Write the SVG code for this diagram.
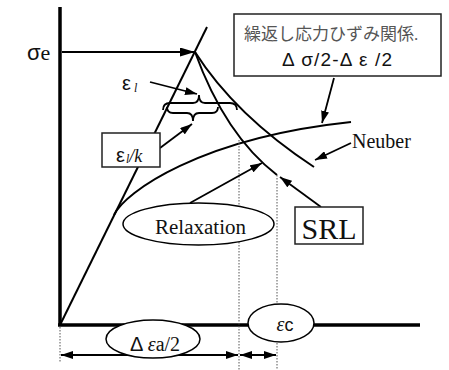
<svg xmlns="http://www.w3.org/2000/svg" width="449" height="370" viewBox="0 0 449 370">
<style>
.ax{stroke:#000;stroke-width:3.5;fill:none}
.cv{stroke:#000;stroke-width:2;fill:none}
.ln{stroke:#000;stroke-width:1.8;fill:none}
.dt{stroke:#555;stroke-width:1;stroke-dasharray:1.5 1.5;fill:none}
.bx{fill:#fff;stroke:#222;stroke-width:1.5}
.el{fill:#fff;stroke:#000;stroke-width:1.5}
.sf{font-family:"Liberation Serif","Times New Roman",serif;fill:#111}
.ss{font-family:"Liberation Sans",Arial,sans-serif;fill:#111}
</style>
<defs>
<marker id="ah" viewBox="0 0 12 8" refX="12" refY="4" markerWidth="12" markerHeight="8" orient="auto-start-reverse" markerUnits="userSpaceOnUse"><path d="M0,0 L12,4 L0,8 z" fill="#000"/></marker>
<marker id="ahl" viewBox="0 0 15 9" refX="15" refY="4.5" markerWidth="15" markerHeight="9" orient="auto" markerUnits="userSpaceOnUse"><path d="M0,0 L15,4.5 L0,9 z" fill="#000"/></marker>
</defs>
<rect width="449" height="370" fill="#fff"/>
<g id="axes">
<line class="ax" x1="60" y1="7" x2="60" y2="326"/>
<line class="ax" x1="58" y1="325" x2="420" y2="325"/>
</g>
<g id="curves">
<line class="cv" x1="60" y1="325" x2="207" y2="27"/>
<path class="cv" d="M195,52 Q235,115 314,167"/>
<path class="cv" d="M195,52 Q225,135 277,175"/>
<path class="cv" d="M114,215 C125,192 200,138 351,122"/>
<path class="ln" d="M163,110 Q163,103 170,103 L193,103 Q199,103 199,95 Q199,103 205,103 L230,103 Q237,103 237,110"/>
<path class="ln" d="M167,107 Q167,113 173,113 L187,113 Q193,113 193,121 Q193,113 199,113 L212,113 Q218,113 218,107"/>
</g>
<g id="dotted">
<line class="dt" x1="239" y1="140" x2="239" y2="370"/>
<line class="dt" x1="277" y1="175" x2="277" y2="370"/>
<line class="dt" x1="60" y1="327" x2="60" y2="362"/>
</g>
<g id="connectors">
<line class="ln" x1="62" y1="52" x2="195" y2="52" marker-end="url(#ahl)"/>
<line class="ln" x1="150" y1="82" x2="197" y2="94" marker-end="url(#ah)"/>
<line class="ln" x1="160" y1="148" x2="192" y2="124" marker-end="url(#ah)"/>
<line class="ln" x1="334" y1="78" x2="322" y2="123" marker-end="url(#ah)"/>
<line class="ln" x1="351" y1="143" x2="315" y2="160" marker-end="url(#ah)"/>
<line class="ln" x1="190" y1="203" x2="262" y2="163" marker-end="url(#ah)"/>
<line class="ln" x1="321" y1="207" x2="280" y2="177" marker-end="url(#ah)"/>
<line class="ln" x1="61" y1="355" x2="238" y2="355" marker-start="url(#ah)" marker-end="url(#ah)"/>
<line class="ln" x1="240" y1="355" x2="276" y2="355" marker-start="url(#ah)" marker-end="url(#ah)"/>
</g>
<g id="sigma-e">
<text x="27" y="60" font-size="22"><tspan class="ss">σ</tspan><tspan class="sf">e</tspan></text>
</g>
<g id="cyclic-box">
<rect class="bx" x="234" y="14" width="207" height="62"/>
<text x="244" y="40" font-size="17" fill="#555" font-family="'Liberation Serif','Noto Sans CJK JP',serif">繰返し応力ひずみ関係.</text>
<text class="ss" x="282" y="66" font-size="19" textLength="110" lengthAdjust="spacing">Δ σ/2-Δ ε /2</text>
</g>
<g id="eps-l">
<text x="122" y="90" font-size="20"><tspan class="ss">ε</tspan><tspan class="sf" font-size="12" font-style="italic" dx="3" dy="2">l</tspan></text>
</g>
<g id="eps-l-k">
<rect class="bx" x="102" y="133" width="58" height="34"/>
<text x="116" y="162" font-size="20"><tspan class="ss">ε</tspan><tspan class="sf" font-size="12" font-style="italic" dx="1" dy="1">l</tspan><tspan class="sf" font-style="italic" font-size="18" dy="-1">/k</tspan></text>
</g>
<g id="neuber">
<text class="sf" x="352" y="148" font-size="20">Neuber</text>
</g>
<g id="relaxation">
<ellipse class="el" cx="198.5" cy="224" rx="75.5" ry="21"/>
<text class="sf" x="155" y="234" font-size="20" textLength="91" lengthAdjust="spacingAndGlyphs">Relaxation</text>
</g>
<g id="srl">
<rect class="bx" x="295" y="207" width="68" height="37"/>
<text class="sf" x="329" y="239" font-size="30" text-anchor="middle">SRL</text>
</g>
<g id="delta-eps-a">
<ellipse class="el" cx="153" cy="339" rx="47" ry="19"/>
<text x="155" y="351" font-size="20" text-anchor="middle"><tspan class="ss">Δ </tspan><tspan class="sf" font-style="italic">ε</tspan><tspan class="sf">a/2</tspan></text>
</g>
<g id="eps-c">
<ellipse class="el" cx="281" cy="323" rx="33" ry="19"/>
<text x="285" y="331" font-size="20" text-anchor="middle"><tspan class="sf" font-style="italic">ε</tspan><tspan class="ss" font-size="18">c</tspan></text>
</g>
</svg>
